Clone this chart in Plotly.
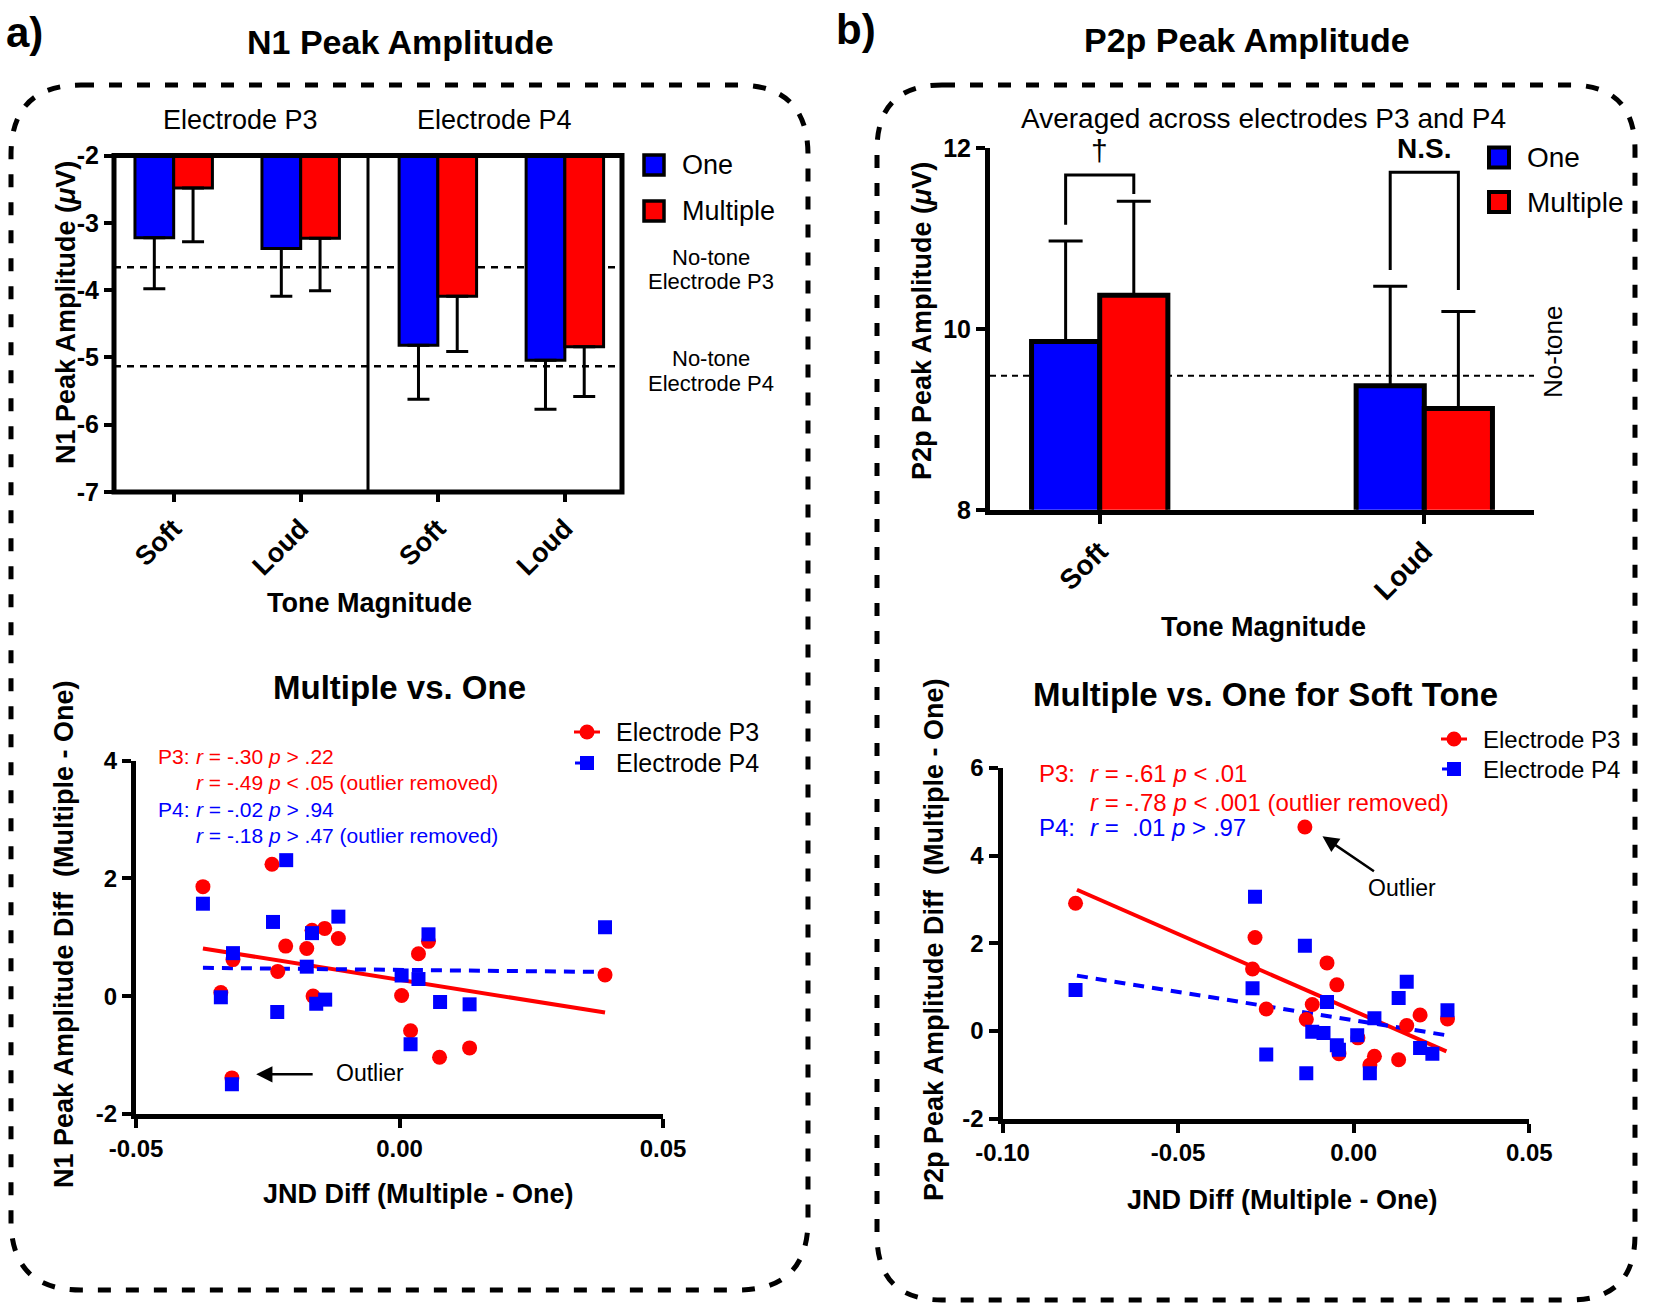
import plotly.graph_objects as go

W, H = 1654, 1313
FONT = "Liberation Sans, Arial, sans-serif"
BLUE = "#0000ff"
RED = "#ff0000"

# ---- a) N1 peak amplitude (bars, mean with SEM) ----
tones = ["Soft", "Loud"]
n1_p3_one = [-3.22, -3.38]
n1_p3_one_sem = [0.76, 0.71]
n1_p3_multi = [-2.48, -3.23]
n1_p3_multi_sem = [0.80, 0.78]
n1_p4_one = [-4.82, -5.04]
n1_p4_one_sem = [0.80, 0.73]
n1_p4_multi = [-4.09, -4.84]
n1_p4_multi_sem = [0.82, 0.74]
n1_notone = [-3.66, -5.13]          # electrode P3, electrode P4
n1_ticks = [-2, -3, -4, -5, -6, -7]
n1_ticktext = ["-2", "-3", "-4", "-5", "-6", "-7"]

# ---- b) P2p peak amplitude (bars) ----
p2_one = [9.86, 9.37]
p2_one_sem = [1.11, 1.10]
p2_multi = [10.37, 9.12]
p2_multi_sem = [1.04, 1.07]
p2_notone = 9.48
p2_ticks = [8, 10, 12]
bracket_left = [11.15, 10.65]
bracket_top = [11.70, 11.73]
bracket_right = [11.49, 10.43]
bracket_marks = ["†", "<b>N.S.</b>"]

# ---- a) scatter: multiple vs one ----
a_p3_x = [-0.0373, -0.0242, -0.0316, -0.0339, -0.0231, -0.0216, -0.0176, -0.0166, -0.0142, -0.0116,
          -0.0164, 0.0004, 0.0021, 0.0036, 0.0055, 0.0076, 0.0133, 0.0390, -0.0318]
a_p3_y = [1.86, 2.24, 0.62, 0.06, 0.42, 0.85, 0.81, 1.12, 1.15, 0.98,
          0.00, 0.01, -0.59, 0.72, 0.93, -1.04, -0.88, 0.36, -1.39]
a_p4_x = [-0.0373, -0.0215, -0.0316, -0.0339, -0.0240, -0.0232, -0.0176, -0.0166, -0.0116, -0.0158,
          -0.0141, 0.0004, 0.0036, 0.0055, 0.0021, 0.0077, 0.0133, 0.0390, -0.0318]
a_p4_y = [1.57, 2.31, 0.73, -0.02, 1.26, -0.27, 0.50, 1.07, 1.35, -0.13,
          -0.06, 0.35, 0.29, 1.05, -0.82, -0.10, -0.14, 1.17, -1.50]
a_fit_x = [-0.0373, 0.0390]
a_fit_p3 = [0.81, -0.28]
a_fit_p4 = [0.48, 0.41]
a_xticks = [-0.05, 0.0, 0.05]
a_xticktext = ["-0.05", "0.00", "0.05"]
a_yticks = [-2, 0, 2, 4]
a_yticktext = ["-2", "0", "2", "4"]

# ---- b) scatter: multiple vs one for soft tone ----
b_p3_x = [-0.0792, -0.0281, -0.0288, -0.0249, -0.0139, -0.0135, -0.0118, -0.0076, -0.0048, -0.0042,
          0.0012, 0.0046, 0.0059, 0.0128, 0.0151, 0.0189, 0.0267]
b_p3_y = [2.91, 2.13, 1.41, 0.50, 4.65, 0.26, 0.60, 1.55, 1.05, -0.52,
          -0.16, -0.78, -0.58, -0.66, 0.12, 0.36, 0.27]
b_p4_x = [-0.0792, -0.0281, -0.0288, -0.0249, -0.0139, -0.0135, -0.0118, -0.0086, -0.0076, -0.0048,
          -0.0042, 0.0010, 0.0046, 0.0059, 0.0128, 0.0151, 0.0189, 0.0224, 0.0267]
b_p4_y = [0.93, 3.06, 0.97, -0.54, 1.94, -0.97, -0.02, -0.05, 0.66, -0.33,
          -0.43, -0.10, -0.97, 0.29, 0.75, 1.12, -0.39, -0.52, 0.47]
b_fit_x = [-0.0788, 0.0264]
b_fit_p3 = [3.22, -0.47]
b_fit_p4 = [1.26, -0.10]
b_xticks = [-0.10, -0.05, 0.0, 0.05]
b_xticktext = ["-0.10", "-0.05", "0.00", "0.05"]
b_yticks = [-2, 0, 2, 4, 6]
b_yticktext = ["-2", "0", "2", "4", "6"]


def fx(px):
    return px / W


def fy(py):
    return 1 - py / H


def bold(size):
    return dict(family=FONT, size=size, color="black", weight="bold")


def plain(size, color="black"):
    return dict(family=FONT, size=size, color=color)


fig = go.Figure()

# N1 bars
bw = 0.305
for xa, one, one_sem, multi, multi_sem in [
        ("x", n1_p3_one, n1_p3_one_sem, n1_p3_multi, n1_p3_multi_sem),
        ("x2", n1_p4_one, n1_p4_one_sem, n1_p4_multi, n1_p4_multi_sem)]:
    fig.add_trace(go.Bar(
        x=tones, y=one, width=bw, offset=-bw, xaxis=xa, yaxis="y",
        marker=dict(color=BLUE, line=dict(color="black", width=3)),
        error_y=dict(type="data", symmetric=False, array=[0, 0], arrayminus=one_sem,
                     color="black", thickness=3, width=11),
        name="One", showlegend=False))
    fig.add_trace(go.Bar(
        x=tones, y=multi, width=bw, offset=0, xaxis=xa, yaxis="y",
        marker=dict(color=RED, line=dict(color="black", width=3)),
        error_y=dict(type="data", symmetric=False, array=[0, 0], arrayminus=multi_sem,
                     color="black", thickness=3, width=11),
        name="Multiple", showlegend=False))

# P2p bars
bw2 = 0.21
fig.add_trace(go.Bar(
    x=tones, y=p2_one, width=bw2, offset=-bw2, xaxis="x4", yaxis="y4",
    marker=dict(color=BLUE, line=dict(color="black", width=5)),
    error_y=dict(type="data", symmetric=False, array=p2_one_sem, arrayminus=[0, 0],
                 color="black", thickness=3, width=17),
    name="One", showlegend=False))
fig.add_trace(go.Bar(
    x=tones, y=p2_multi, width=bw2, offset=0, xaxis="x4", yaxis="y4",
    marker=dict(color=RED, line=dict(color="black", width=5)),
    error_y=dict(type="data", symmetric=False, array=p2_multi_sem, arrayminus=[0, 0],
                 color="black", thickness=3, width=17),
    name="Multiple", showlegend=False))

# scatter panels
for xa, ya, fit_x, fit3, fit4, p3x, p3y, p4x, p4y in [
        ("x3", "y3", a_fit_x, a_fit_p3, a_fit_p4, a_p3_x, a_p3_y, a_p4_x, a_p4_y),
        ("x5", "y5", b_fit_x, b_fit_p3, b_fit_p4, b_p3_x, b_p3_y, b_p4_x, b_p4_y)]:
    fig.add_trace(go.Scatter(x=fit_x, y=fit3, mode="lines", xaxis=xa, yaxis=ya,
                             line=dict(color=RED, width=4), showlegend=False))
    fig.add_trace(go.Scatter(x=fit_x, y=fit4, mode="lines", xaxis=xa, yaxis=ya,
                             line=dict(color=BLUE, width=4, dash="11px,8px"), showlegend=False))
    fig.add_trace(go.Scatter(x=p3x, y=p3y, mode="markers", xaxis=xa, yaxis=ya,
                             marker=dict(color=RED, size=15, symbol="circle"),
                             name="Electrode P3", showlegend=False))
    fig.add_trace(go.Scatter(x=p4x, y=p4y, mode="markers", xaxis=xa, yaxis=ya,
                             marker=dict(color=BLUE, size=14, symbol="square"),
                             name="Electrode P4", showlegend=False))

tick_common = dict(ticks="outside", ticklen=9, tickwidth=4, tickcolor="black",
                   showgrid=False, zeroline=False, automargin=False)

fig.update_layout(
    width=W, height=H, margin=dict(l=0, r=0, t=0, b=0, autoexpand=False),
    paper_bgcolor="white", plot_bgcolor="white", showlegend=False,
    barmode="overlay", font=plain(22),
    xaxis=dict(domain=[fx(114), fx(368)], anchor="y", type="category", range=[-0.47, 1.53],
               tickangle=-45, tickfont=bold(27), showline=False, **tick_common),
    xaxis2=dict(domain=[fx(368), fx(622)], anchor="y", type="category", range=[-0.55, 1.45],
                tickangle=-45, tickfont=bold(27), showline=False, **tick_common),
    yaxis=dict(domain=[fy(492), fy(155.6)], anchor="x", range=[-7, -2],
               tickvals=n1_ticks, ticktext=n1_ticktext, tickfont=bold(25),
               showline=False, **tick_common),
    xaxis3=dict(domain=[fx(136), fx(663)], anchor="y3", range=[-0.05, 0.05],
                tickvals=a_xticks, ticktext=a_xticktext, tickfont=bold(24),
                showline=True, linewidth=5, linecolor="black", **tick_common),
    yaxis3=dict(domain=[fy(1113.8), fy(760.7)], anchor="x3", range=[-2, 4],
                tickvals=a_yticks, ticktext=a_yticktext, tickfont=bold(24),
                showline=True, linewidth=5, linecolor="black", **tick_common),
    xaxis4=dict(domain=[fx(990), fx(1534)], anchor="y4", type="category", range=[-0.338, 1.338],
                tickangle=-45, tickfont=bold(28),
                showline=True, linewidth=5, linecolor="black", **tick_common),
    yaxis4=dict(domain=[fy(509.8), fy(147.8)], anchor="x4", range=[8, 12],
                tickvals=p2_ticks, tickfont=bold(25),
                showline=True, linewidth=5, linecolor="black", **tick_common),
    xaxis5=dict(domain=[fx(1002.5), fx(1529.3)], anchor="y5", range=[-0.10, 0.05],
                tickvals=b_xticks, ticktext=b_xticktext, tickfont=bold(24),
                showline=True, linewidth=5, linecolor="black", **tick_common),
    yaxis5=dict(domain=[fy(1118.5), fy(767.9)], anchor="x5", range=[-2, 6],
                tickvals=b_yticks, ticktext=b_yticktext, tickfont=bold(24),
                showline=True, linewidth=5, linecolor="black", **tick_common),
)


def rounded_box(x0, y0, x1, y1, r):
    pts = [("M", x0 + r, y0), ("L", x1 - r, y0), ("Q", x1, y0, x1, y0 + r),
           ("L", x1, y1 - r), ("Q", x1, y1, x1 - r, y1), ("L", x0 + r, y1),
           ("Q", x0, y1, x0, y1 - r), ("L", x0, y0 + r), ("Q", x0, y0, x0 + r, y0)]
    path = ""
    for p in pts:
        cmd, coords = p[0], p[1:]
        xy = []
        for i in range(0, len(coords), 2):
            xy.append(f"{fx(coords[i]):.5f},{fy(coords[i + 1]):.5f}")
        path += cmd + " ".join(xy) + " "
    return path + "Z"


shapes = []
for box in [(11, 85, 808, 1290, 70), (877, 85, 1635, 1300, 65)]:
    shapes.append(dict(type="path", xref="paper", yref="paper", path=rounded_box(*box),
                       line=dict(color="black", width=5, dash="13px,15px")))

# N1 frame, divider and no-tone lines
shapes.append(dict(type="rect", xref="paper", yref="paper", x0=fx(114), x1=fx(622),
                   y0=fy(492), y1=fy(155.6), line=dict(color="black", width=5), layer="above"))
shapes.append(dict(type="line", xref="paper", yref="paper", x0=fx(368), x1=fx(368),
                   y0=fy(492), y1=fy(155.6), line=dict(color="black", width=3), layer="above"))
for v in n1_notone:
    shapes.append(dict(type="line", xref="paper", yref="y", x0=fx(114), x1=fx(622), y0=v, y1=v,
                       line=dict(color="black", width=2.5, dash="7px,6px"), layer="below"))
shapes.append(dict(type="line", xref="paper", yref="y4", x0=fx(990), x1=fx(1534),
                   y0=p2_notone, y1=p2_notone,
                   line=dict(color="black", width=2, dash="6px,5px"), layer="below"))

# significance brackets
for i in range(len(tones)):
    xl, xr = i - bw2 / 2, i + bw2 / 2
    path = f"M{xl},{bracket_left[i]} L{xl},{bracket_top[i]} L{xr},{bracket_top[i]} L{xr},{bracket_right[i]}"
    shapes.append(dict(type="path", xref="x4", yref="y4", path=path,
                       line=dict(color="black", width=3)))

annotations = []


def label(text, x, y, font, xanchor="center", angle=0):
    annotations.append(dict(text=text, x=fx(x), y=fy(y), xref="paper", yref="paper",
                            showarrow=False, font=font, xanchor=xanchor, yanchor="middle",
                            textangle=angle))


def seg(x0, y0, x1, y1, col, w):
    shapes.append(dict(type="line", xref="paper", yref="paper", x0=fx(x0), x1=fx(x1),
                       y0=fy(y0), y1=fy(y1), line=dict(color=col, width=w)))


# bar legends (swatch + text)
for (sx, sy, lw, fs, step) in [(654, 165, 3.5, 27, 46), (1499, 157.5, 4, 28, 44.5)]:
    for k, (nm, col) in enumerate(zip(["One", "Multiple"], [BLUE, RED])):
        cy = sy + k * step
        shapes.append(dict(type="rect", xref="paper", yref="paper",
                           x0=fx(sx - 10), x1=fx(sx + 10), y0=fy(cy + 10), y1=fy(cy - 10),
                           fillcolor=col, line=dict(color="black", width=lw)))
        label(nm, sx + 26, cy, plain(fs), xanchor="left")

# scatter legends (marker + text)
for (sx, sy, step, fs) in [(587, 732, 31, 25), (1454, 739, 30, 24)]:
    seg(sx - 13, sy, sx + 13, sy, RED, 3)
    shapes.append(dict(type="circle", xref="paper", yref="paper",
                       x0=fx(sx - 7.5), x1=fx(sx + 7.5), y0=fy(sy + 7.5), y1=fy(sy - 7.5),
                       fillcolor=RED, line=dict(color=RED, width=0)))
    label("Electrode P3", sx + 27, sy, plain(fs), xanchor="left")
    cy = sy + step
    seg(sx - 12, cy, sx, cy, BLUE, 3)
    shapes.append(dict(type="rect", xref="paper", yref="paper",
                       x0=fx(sx - 7), x1=fx(sx + 7), y0=fy(cy + 7), y1=fy(cy - 7),
                       fillcolor=BLUE, line=dict(color=BLUE, width=0)))
    label("Electrode P4", sx + 27, cy, plain(fs), xanchor="left")

label("a)", 4, 32, bold(42), xanchor="left")
label("b)", 834, 30, bold(42), xanchor="left")
label("N1 Peak Amplitude", 400, 42, bold(34))
label("P2p Peak Amplitude", 1247, 40, bold(34))

label("Electrode P3", 241, 120, plain(27))
label("Electrode P4", 495, 120, plain(27))
label("No-tone", 711, 257, plain(22))
label("Electrode P3", 711, 281, plain(22))
label("No-tone", 711, 359, plain(22))
label("Electrode P4", 711, 383, plain(22))
label("N1 Peak Amplitude (<i>μ</i>V)", 66, 313, bold(27), angle=-90)
label("Tone Magnitude", 369, 603, bold(27))

label("Multiple vs. One", 399, 687, bold(33))
label("P3:", 156, 756, plain(21, RED), xanchor="left")
label("<i>r</i> = -.30 <i>p</i> &gt; .22", 194, 756, plain(21, RED), xanchor="left")
label("<i>r</i> = -.49 <i>p</i> &lt; .05 (outlier removed)", 194, 782, plain(21, RED), xanchor="left")
label("P4:", 156, 809, plain(21, BLUE), xanchor="left")
label("<i>r</i> = -.02 <i>p</i> &gt; .94", 194, 809, plain(21, BLUE), xanchor="left")
label("<i>r</i> = -.18 <i>p</i> &gt; .47 (outlier removed)", 194, 835.5, plain(21, BLUE), xanchor="left")
label("Outlier", 370, 1073, plain(23))
label("N1 Peak Amplitude Diff \u00a0(Multiple - One)", 64, 934, bold(27), angle=-90)
label("JND Diff (Multiple - One)", 418, 1194, bold(27))

label("Averaged across electrodes P3 and P4", 1263, 118, plain(28))
label("P2p Peak Amplitude (<i>μ</i>V)", 922, 321, bold(27), angle=-90)
label("No-tone", 1553, 352, plain(26), angle=-90)
label("Tone Magnitude", 1263, 627, bold(27))
label("Multiple vs. One for Soft Tone", 1265, 694, bold(33))
label("P3:", 1037, 773.7, plain(24, RED), xanchor="left")
label("<i>r</i> = -.61 <i>p</i> &lt; .01", 1088, 773.7, plain(24, RED), xanchor="left")
label("<i>r</i> = -.78 <i>p</i> &lt; .001 (outlier removed)", 1088, 802.4, plain(24, RED), xanchor="left")
label("P4:", 1037, 827.8, plain(24, BLUE), xanchor="left")
label("<i>r</i> = \u00a0.01 <i>p</i> &gt; .97", 1088, 827.8, plain(24, BLUE), xanchor="left")
label("Outlier", 1402, 888, plain(23))
label("P2p Peak Amplitude Diff \u00a0(Multiple - One)", 934, 940, bold(27), angle=-90)
label("JND Diff (Multiple - One)", 1282, 1200, bold(27))

# bracket marks
for i, mark in enumerate(bracket_marks):
    annotations.append(dict(text=mark, x=i, y=bracket_top[i], xref="x4", yref="y4",
                            showarrow=False, yanchor="bottom", yshift=6,
                            font=plain(30) if i == 0 else plain(28)))

# outlier arrows
annotations.append(dict(text="", x=-0.0272, y=-1.33, xref="x3", yref="y3", showarrow=True,
                        ax=58, ay=0, arrowhead=2, arrowsize=1.3, arrowwidth=2.5, arrowcolor="black"))
annotations.append(dict(text="", x=-0.0089, y=4.44, xref="x5", yref="y5", showarrow=True,
                        ax=53, ay=36, arrowhead=2, arrowsize=1.3, arrowwidth=2.5, arrowcolor="black"))

fig.update_layout(shapes=shapes, annotations=annotations)

fig.write_html("out.html", config={"displayModeBar": False},
               post_script="document.body.style.margin = '0px';")
